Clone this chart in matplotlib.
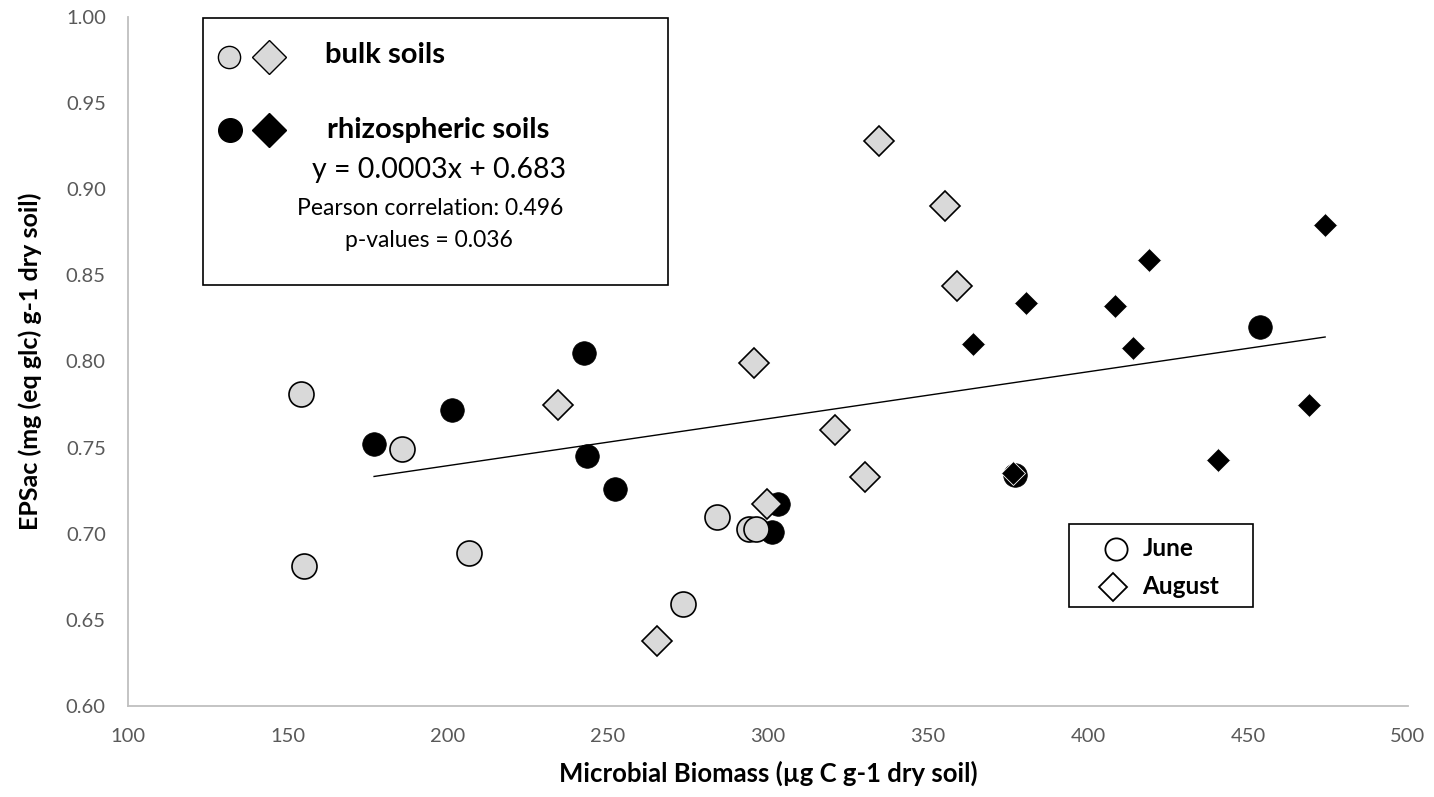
import numpy as np
import matplotlib
matplotlib.use("Agg")
import matplotlib.pyplot as plt
from matplotlib.patches import Rectangle

plt.rcParams['font.family'] = ['Lato', 'DejaVu Sans']

# bulk soils, June (grey circles)
bulk_june_x = [154.1, 155.0, 185.6, 206.6, 273.4, 284.1, 294.1, 296.2]
bulk_june_y = [0.781, 0.681, 0.749, 0.689, 0.659, 0.710, 0.703, 0.703]
# bulk soils, August (grey diamonds)
bulk_aug_x = [234.4, 265.3, 295.6, 299.7, 320.9, 330.3, 334.7, 355.3, 359.1]
bulk_aug_y = [0.775, 0.638, 0.799, 0.717, 0.760, 0.733, 0.928, 0.890, 0.844]
# rhizospheric soils, June (black circles)
rhizo_june_x = [176.9, 201.2, 242.5, 243.4, 252.2, 301.3, 303.1, 377.2, 453.8]
rhizo_june_y = [0.752, 0.772, 0.805, 0.745, 0.726, 0.701, 0.717, 0.734, 0.820]
# rhizospheric soils, August (black diamonds)
rhizo_aug_x = [364.1, 376.6, 380.6, 408.4, 414.1, 419.1, 440.6, 469.1, 474.1]
rhizo_aug_y = [0.810, 0.735, 0.834, 0.832, 0.808, 0.859, 0.743, 0.775, 0.879]

x_ticks = [100, 150, 200, 250, 300, 350, 400, 450, 500]
y_ticks = [0.60, 0.65, 0.70, 0.75, 0.80, 0.85, 0.90, 0.95, 1.00]

grey = '#D9D9D9'
W, H = 1434, 797

fig = plt.figure(figsize=(W / 100, H / 100), dpi=100)
ax = fig.add_axes([128 / W, 1 - 706 / H, 1280 / W, 689 / H])

# trend line fitted on the rhizospheric soils
rx = np.array(rhizo_june_x + rhizo_aug_x)
ry = np.array(rhizo_june_y + rhizo_aug_y)
slope, icpt = np.polyfit(rx, ry, 1)
lx = np.array([rx.min(), rx.max()])
ax.plot(lx, slope * lx + icpt, color='black', lw=1.0, zorder=2)

ax.plot(rhizo_june_x, rhizo_june_y, 'o', ms=17, mfc='black', mec='black', mew=0.5, ls='none', zorder=3)
ax.plot(bulk_june_x, bulk_june_y, 'o', ms=18, mfc=grey, mec='black', mew=1.2, ls='none', zorder=4)
ax.plot(bulk_aug_x, bulk_aug_y, 'D', ms=15, mfc=grey, mec='black', mew=1.2, ls='none', zorder=5)
ax.plot(rhizo_aug_x, rhizo_aug_y, 'D', ms=12.5, mfc='black', mec='white', mew=0.6, ls='none', zorder=6)

ax.set_xlim(100, 500)
ax.set_ylim(0.60, 1.00)
ax.set_xticks(x_ticks)
ax.set_yticks(y_ticks)
ax.set_yticklabels(['%.2f' % v for v in y_ticks])
ax.tick_params(length=0, pad=16, labelsize=14.5, labelcolor='#595959')
for s in ['top', 'right']:
    ax.spines[s].set_visible(False)
for s in ['left', 'bottom']:
    ax.spines[s].set_color('#BFBFBF')
    ax.spines[s].set_linewidth(1.3)

ax.set_xlabel('Microbial Biomass (µg C g-1 dry soil)', fontsize=18.5, fontweight='bold')
ax.set_ylabel('EPSac (mg (eq glc) g-1 dry soil)', fontsize=18, fontweight='bold')
ax.xaxis.set_label_coords(0.5, (706 - 773) / 689)
ax.xaxis.label.set_va('center')
ax.yaxis.set_label_coords((30 - 128) / 1280, 0.5)
ax.yaxis.label.set_va('center')

# overlay in pixel coordinates for the two hand-made legend boxes
ov = fig.add_axes([0, 0, 1, 1])
ov.set_xlim(0, W)
ov.set_ylim(H, 0)
ov.axis('off')
ov.patch.set_alpha(0)

ov.add_patch(Rectangle((203, 18), 465, 267, fc='white', ec='black', lw=1.2))
ov.plot([229], [57], 'o', ms=16, mfc=grey, mec='black', mew=1.0)
ov.plot([269], [57], 'D', ms=17, mfc=grey, mec='black', mew=1.0)
ov.text(325, 55, 'bulk soils', fontsize=21, fontweight='bold', va='center', ha='left')
ov.plot([230], [130], 'o', ms=17, mfc='black', mec='black')
ov.plot([269], [130], 'D', ms=17.5, mfc='black', mec='black')
ov.text(327, 130, 'rhizospheric soils', fontsize=21, fontweight='bold', va='center', ha='left')
ov.text(439, 170, 'y = 0.0003x + 0.683', fontsize=20.5, va='center', ha='center')
ov.text(430, 208, 'Pearson correlation: 0.496', fontsize=16.5, va='center', ha='center')
ov.text(429, 240, 'p-values = 0.036', fontsize=16.5, va='center', ha='center')

ov.add_patch(Rectangle((1069, 524), 184, 83, fc='white', ec='black', lw=1.2))
ov.plot([1116], [549], 'o', ms=16, mfc='white', mec='black', mew=1.3)
ov.text(1143, 549, 'June', fontsize=17.5, fontweight='bold', va='center', ha='left')
ov.plot([1113], [587], 'D', ms=14.2, mfc='white', mec='black', mew=1.3)
ov.text(1142, 587, 'August', fontsize=17.5, fontweight='bold', va='center', ha='left')

fig.savefig('out.png', dpi=100)
